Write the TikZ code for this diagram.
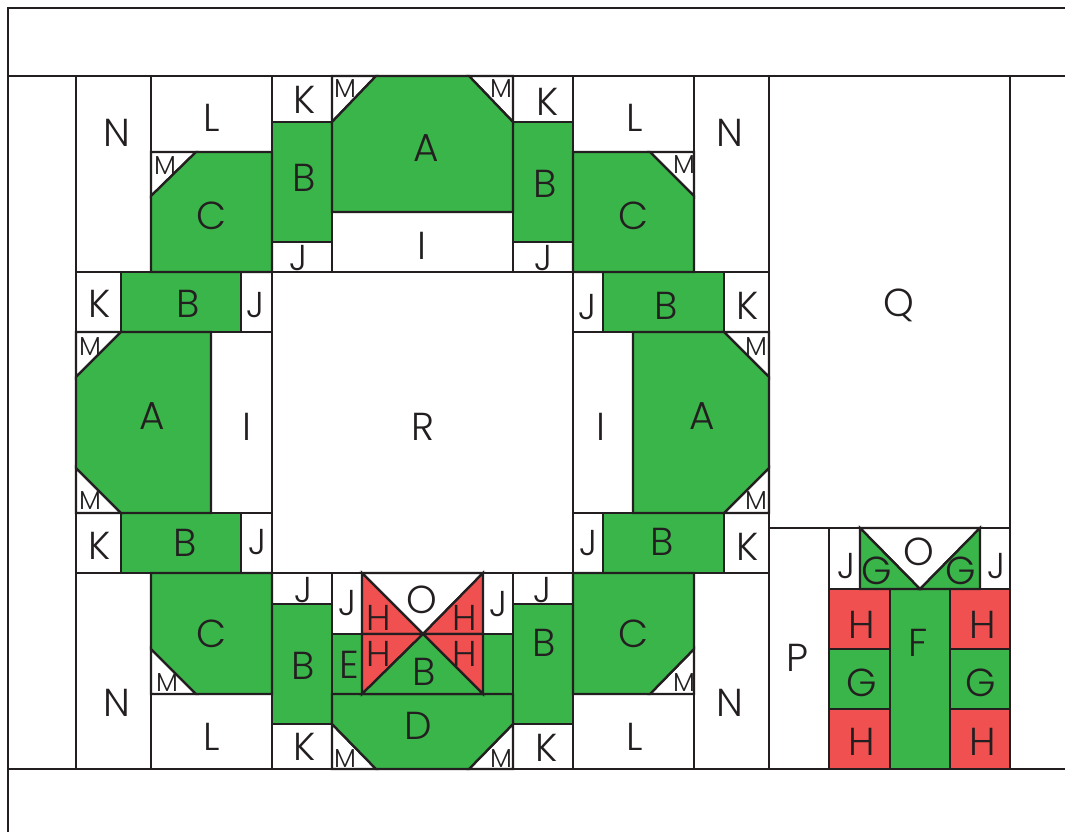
\documentclass[tikz,border=0pt]{standalone}
\usepackage{fontspec}
\setmainfont{Poppins}[UprightFont=* Light]
\definecolor{qgreen}{HTML}{3AB54A}
\definecolor{qred}{HTML}{F15050}
\definecolor{qink}{HTML}{231F20}
\tikzset{
 wcell/.style={draw=qink,line width=2.3pt,fill=white,line join=miter},
 gcell/.style={draw=qink,line width=2.3pt,fill=qgreen,line join=miter},
 rcell/.style={draw=qink,line width=2.3pt,fill=qred,line join=miter},
 rw/.style={line width=2.8pt},
 lab/.style={inner sep=0pt,text=qink,xshift=1pt,yshift=-0.5pt,font=\fontsize{39}{39}\selectfont},
 tiny/.style={lab,font=\fontsize{26}{26}\selectfont},
 mid/.style={lab,font=\fontsize{36}{36}\selectfont},
}
\begin{document}
\begin{tikzpicture}[x=1pt,y=-1pt]
\useasboundingbox (0,0) rectangle (1065,832);
% frame
\fill[white] (0,0) rectangle (1065,832);
\draw[wcell,rw] (1065,8) -- (8,8) -- (8,832);
\draw[wcell,rw] (8,76) -- (1065,76);
\draw[wcell,rw] (8,769) -- (1065,769);
% white cells
\foreach \a/\b/\c/\d in {76/76/151/272,151/76/272/152,272/76/332/122,272/242/332/272,332/212/513/272,513/76/573/122,513/242/573/272,573/76/694/152,694/76/769/272,
 76/272/121/332,241/272/272/332,272/272/573/573,573/272/603/332,724/272/769/332,211/332/272/513,573/332/633/513,
 76/513/121/573,241/513/272/573,573/513/603/573,724/513/769/573,
 76/573/151/769,151/694/272/769,272/573/332/604,272/724/332/769,332/573/362/634,483/573/513/634,513/573/573/604,513/724/573/769,573/694/694/769,694/573/769/769,
 769/76/1010/528,769/528/829/769,829/528/860/589,980/528/1010/589}
 {\draw[wcell,rw] (\a,\b) rectangle (\c,\d);}
% green rectangles
\foreach \a/\b/\c/\d in {272/122/332/242,513/122/573/242,121/272/241/332,603/272/724/332,121/513/241/573,603/513/724/573,272/604/332/724,513/604/573/724,332/634/362/694,483/634/513/694,829/649/890/709,950/649/1010/709,890/589/950/769}
 {\draw[gcell,rw] (\a,\b) rectangle (\c,\d);}
% red rectangles
\foreach \a/\b/\c/\d in {829/589/890/649,829/709/890/769,950/589/1010/649,950/709/1010/769}
 {\draw[rcell,rw] (\a,\b) rectangle (\c,\d);}
% corner triangles
\draw[wcell] (332,76) -- (376,76) -- (332,122) -- cycle;
\draw[wcell] (513,76) -- (469,76) -- (513,122) -- cycle;
\draw[wcell] (151,152) -- (196,152) -- (151,196) -- cycle;
\draw[wcell] (694,152) -- (650,152) -- (694,196) -- cycle;
\draw[wcell] (76,332) -- (121,332) -- (76,377) -- cycle;
\draw[wcell] (76,513) -- (121,513) -- (76,468) -- cycle;
\draw[wcell] (769,332) -- (724,332) -- (769,377) -- cycle;
\draw[wcell] (769,513) -- (724,513) -- (769,468) -- cycle;
\draw[wcell] (151,694) -- (196,694) -- (151,649) -- cycle;
\draw[wcell] (694,694) -- (650,694) -- (694,649) -- cycle;
\draw[wcell] (332,769) -- (376,769) -- (332,724) -- cycle;
\draw[wcell] (513,769) -- (469,769) -- (513,724) -- cycle;
% green polygons
\draw[gcell] (376,76) -- (469,76) -- (513,122) -- (513,212) -- (332,212) -- (332,122) -- cycle;
\draw[gcell] (196,152) -- (272,152) -- (272,272) -- (151,272) -- (151,196) -- cycle;
\draw[gcell] (573,152) -- (650,152) -- (694,196) -- (694,272) -- (573,272) -- cycle;
\draw[gcell] (121,332) -- (211,332) -- (211,513) -- (121,513) -- (76,468) -- (76,377) -- cycle;
\draw[gcell] (633,332) -- (724,332) -- (769,377) -- (769,468) -- (724,513) -- (633,513) -- cycle;
\draw[gcell] (151,573) -- (272,573) -- (272,694) -- (196,694) -- (151,649) -- cycle;
\draw[gcell] (573,573) -- (694,573) -- (694,649) -- (650,694) -- (573,694) -- cycle;
\draw[gcell] (332,694) -- (513,694) -- (513,724) -- (469,769) -- (376,769) -- (332,724) -- cycle;
% centre bow
\draw[wcell] (362,573) -- (483,573) -- (423,634) -- cycle;
\draw[rcell] (362,573) -- (423,634) -- (362,634) -- cycle;
\draw[rcell] (483,573) -- (423,634) -- (483,634) -- cycle;
\draw[rcell] (362,634) -- (423,634) -- (362,694) -- cycle;
\draw[rcell] (483,634) -- (423,634) -- (483,694) -- cycle;
\draw[gcell] (362,694) -- (423,634) -- (483,694) -- cycle;
% right block top
\draw[wcell] (860,528) -- (980,528) -- (920,589) -- cycle;
\draw[gcell] (860,528) -- (920,589) -- (860,589) -- cycle;
\draw[gcell] (980,528) -- (920,589) -- (980,589) -- cycle;
% labels
\node[lab] (t01) at (116,132) {N};
\node[lab] (t02) at (211,117) {L};
\node[tiny] (t03) at (164,165) {M};
\node[lab] (t04) at (211,215) {C};
\node[lab] (t05) at (304,99) {K};
\node[lab] (t06) at (303,177) {B};
\node[mid] (t07) at (297,258) {J};
\node[tiny] (t08) at (344,88) {M};
\node[lab] (t09) at (425,148) {A};
\node[lab] (t10) at (421,245) {I};
\node[tiny] (t11) at (500,88) {M};
\node[lab] (t12) at (547,101) {K};
\node[lab] (t13) at (544,183) {B};
\node[mid] (t14) at (542,258) {J};
\node[lab] (t15) at (634,117) {L};
\node[tiny] (t16) at (683,164) {M};
\node[lab] (t17) at (633,215) {C};
\node[lab] (t18) at (729,132) {N};
\node[lab] (t19) at (898,305) {Q};
\node[lab] (t20) at (99,303) {K};
\node[lab] (t21) at (187,303) {B};
\node[mid] (t22) at (254,305) {J};
\node[mid] (t23) at (586,307) {J};
\node[lab] (t24) at (665,305) {B};
\node[lab] (t25) at (747,305) {K};
\node[tiny] (t26) at (89,346) {M};
\node[tiny] (t27) at (755,346) {M};
\node[lab] (t28) at (151,416) {A};
\node[lab] (t29) at (246,426) {I};
\node[lab] (t30) at (422,426) {R};
\node[lab] (t31) at (600,426) {I};
\node[lab] (t32) at (701,416) {A};
\node[tiny] (t33) at (89,500) {M};
\node[tiny] (t34) at (755,500) {M};
\node[lab] (t35) at (99,545) {K};
\node[lab] (t36) at (184,542) {B};
\node[mid] (t37) at (256,542) {J};
\node[mid] (t38) at (587,543) {J};
\node[lab] (t39) at (661,541) {B};
\node[lab] (t40) at (747,546) {K};
\node[lab] (t41) at (211,633) {C};
\node[tiny] (t42) at (166,682) {M};
\node[lab] (t43) at (116,702) {N};
\node[lab] (t44) at (211,736) {L};
\node[mid] (t45) at (302,590) {J};
\node[lab] (t46) at (302,665) {B};
\node[lab] (t47) at (304,746) {K};
\node[tiny] (t48) at (344,758) {M};
\node[lab] (t49) at (348,664) {E};
\node[mid] (t50) at (346,603) {J};
\node[lab] (t51) at (421,599) {O};
\node[mid] (t52) at (378,617) {H};
\node[mid] (t53) at (464,617) {H};
\node[mid] (t54) at (378,653) {H};
\node[mid] (t55) at (464,653) {H};
\node[lab] (t56) at (423,671) {B};
\node[mid] (t57) at (497,604) {J};
\node[lab] (t58) at (417,725) {D};
\node[tiny] (t59) at (500,758) {M};
\node[mid] (t60) at (541,590) {J};
\node[lab] (t61) at (543,642) {B};
\node[lab] (t62) at (546,747) {K};
\node[lab] (t63) at (633,633) {C};
\node[tiny] (t64) at (683,682) {M};
\node[lab] (t65) at (634,736) {L};
\node[lab] (t66) at (729,702) {N};
\node[lab] (t67) at (796,657) {P};
\node[lab] (t68) at (917,642) {F};
\node[mid] (t69) at (845,566) {J};
\node[lab] (t70) at (876,570) {G};
\node[lab] (t71) at (918,551) {O};
\node[lab] (t72) at (960,570) {G};
\node[mid] (t73) at (995,566) {J};
\node[lab] (t74) at (861,624) {H};
\node[lab] (t75) at (861,682) {G};
\node[lab] (t76) at (861,741) {H};
\node[lab] (t77) at (982,624) {H};
\node[lab] (t78) at (980,682) {G};
\node[lab] (t79) at (982,741) {H};
\end{tikzpicture}
\end{document}
